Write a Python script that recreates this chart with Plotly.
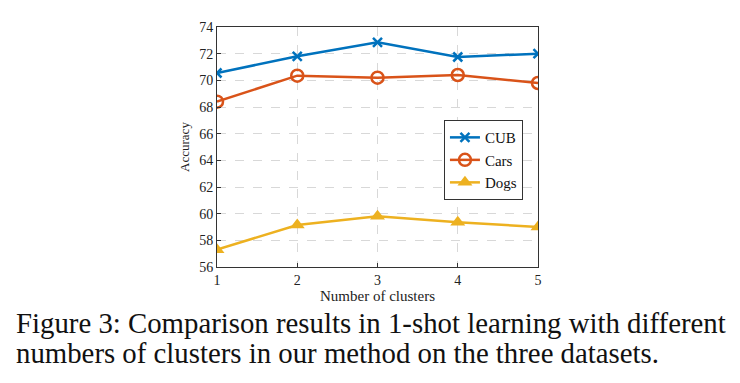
import plotly.graph_objects as go

clusters = [1, 2, 3, 4, 5]
cub = [70.55, 71.8, 72.85, 71.75, 72.0]
cars = [68.4, 70.35, 70.2, 70.4, 69.8]
dogs = [57.3, 59.15, 59.8, 59.35, 59.0]
y_ticks = [56, 58, 60, 62, 64, 66, 68, 70, 72, 74]
caption_lines = ["Figure 3: Comparison results in 1-shot learning with different",
                 "numbers of clusters in our method on the three datasets."]

serif = "Liberation Serif"

fig = go.Figure()
fig.add_trace(go.Scatter(x=clusters, y=cub, name="CUB", mode="lines+markers",
                         line=dict(color="#0072BD", width=2.5),
                         marker=dict(symbol="x-thin-open", size=9,
                                     line=dict(color="#0072BD", width=2.5))))
fig.add_trace(go.Scatter(x=clusters, y=cars, name="Cars", mode="lines+markers",
                         line=dict(color="#D95319", width=2.5),
                         marker=dict(symbol="circle-open", size=12,
                                     line=dict(color="#D95319", width=2.5))))
fig.add_trace(go.Scatter(x=clusters, y=dogs, name="Dogs", mode="lines+markers",
                         line=dict(color="#EDB120", width=2.5),
                         marker=dict(symbol="triangle-up", size=13, color="#EDB120")))

fig.update_layout(
    width=732, height=375,
    margin=dict(l=209, r=202, t=12, b=116),
    paper_bgcolor="white", plot_bgcolor="white",
    font=dict(family=serif, size=14, color="#222"),
    showlegend=True,
    legend=dict(x=0.707, y=0.612, xanchor="left", yanchor="top",
                bordercolor="#333", borderwidth=1, bgcolor="white",
                font=dict(family=serif, size=15, color="#111"), tracegroupgap=0,
                itemwidth=30),
    xaxis=dict(range=[1, 5], tickvals=clusters, showgrid=True,
               gridcolor="#d8d8d8", griddash="dash", gridwidth=1,
               showline=True, linecolor="#333", linewidth=1, mirror=True,
               ticks="inside", ticklen=4, tickcolor="#333",
               tickfont=dict(family=serif, size=14),
               title=dict(text="Number of clusters", standoff=2,
                          font=dict(family=serif, size=15)),
               zeroline=False),
    yaxis=dict(range=[56, 74], tickvals=y_ticks, showgrid=True,
               gridcolor="#d8d8d8", griddash="dash", gridwidth=1,
               showline=True, linecolor="#333", linewidth=1, mirror=True,
               ticks="inside", ticklen=4, tickcolor="#333",
               tickfont=dict(family=serif, size=14),
               title=dict(text="Accuracy", standoff=6,
                          font=dict(family=serif, size=13)),
               zeroline=False),
)

for line_text, ypos in zip(caption_lines, [-0.235, -0.360]):
    fig.add_annotation(text=line_text, xref="paper", yref="paper",
                       x=-0.632, y=ypos, xanchor="left", yanchor="middle",
                       align="left", showarrow=False,
                       font=dict(family=serif, size=28.8, color="#111"))

fig.write_html("out.html")
